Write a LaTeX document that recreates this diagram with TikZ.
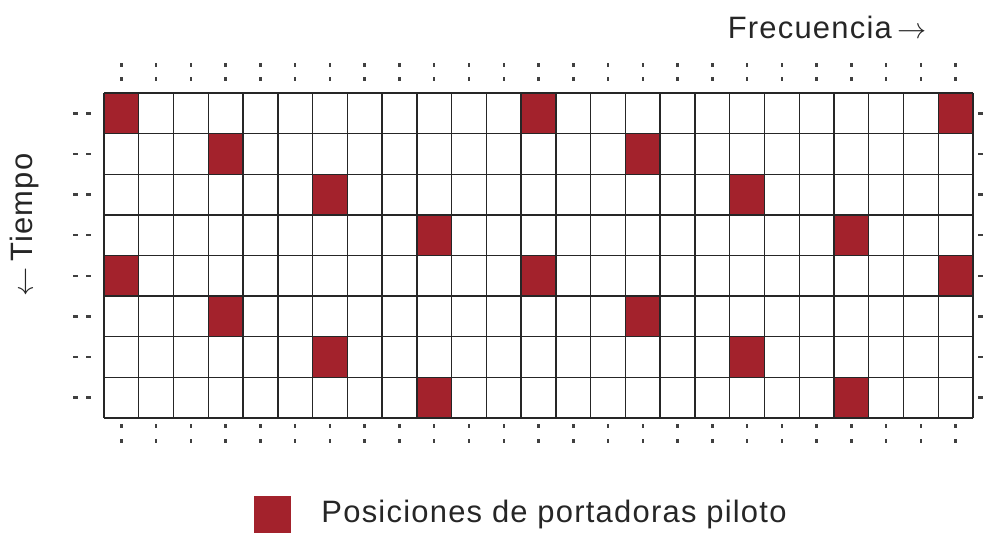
\documentclass[tikz,border=0pt]{standalone}
\usepackage{fontspec}
\setmainfont[LetterSpace=4]{Liberation Sans}
\usetikzlibrary{positioning}
\definecolor{pilotred}{RGB}{163,34,44}
\tikzset{
  pilot/.style={fill=pilotred,draw=none},
  gridline/.style={line width=1pt,draw=black!85},
  tick/.style={fill=black!75,draw=none},
  label/.style={font=\fontsize{22}{24}\selectfont,text=black!85,inner sep=0pt}
}
\begin{document}
\begin{tikzpicture}[x=0.025cm,y=-0.025cm]
\useasboundingbox (0,0) rectangle (990,536);
% pilot cells (row/column)
\foreach \r/\c in {0/0,0/12,0/24,1/3,1/15,2/6,2/18,3/9,3/21,4/0,4/12,4/24,5/3,5/15,6/6,6/18,7/9,7/21}
  \fill[pilot] ({104+34.76*\c},{93+40.625*\r}) rectangle ++(34.76,40.625);
% grid
\foreach \c in {0,...,25} \draw[gridline] ({104+34.76*\c},93)--({104+34.76*\c},418);
\foreach \r in {0,...,8} \draw[gridline] (104,{93+40.625*\r})--(973,{93+40.625*\r});
% dots above/below each column
\foreach \c in {0,...,24}{
  \foreach \y in {65,79,426,441} \fill[tick] ({121.4+34.76*\c-1.25},\y-2) rectangle ++(2.5,4);}
% dashes left/right of each row
\foreach \r in {0,...,7}{
  \foreach \x in {73,86} \fill[tick] (\x,{113.3+40.625*\r-1.25}) rectangle ++(4.5,2.5);
  \fill[tick] (978,{113.3+40.625*\r-1.25}) rectangle ++(5,2.5);}
% labels
\node[label] (freq) at (827,27) {Frecuencia\,$\rightarrow$};
\node[label,rotate=90] (tiempo) at (25,225) {$\leftarrow$\,Tiempo};
\node[pilot,minimum size=0.92cm,inner sep=0pt] (key) at (272.5,514.5) {};
\node[label,right=0.75cm of key] (keytext) {Posiciones de portadoras piloto};
\end{tikzpicture}
\end{document}
